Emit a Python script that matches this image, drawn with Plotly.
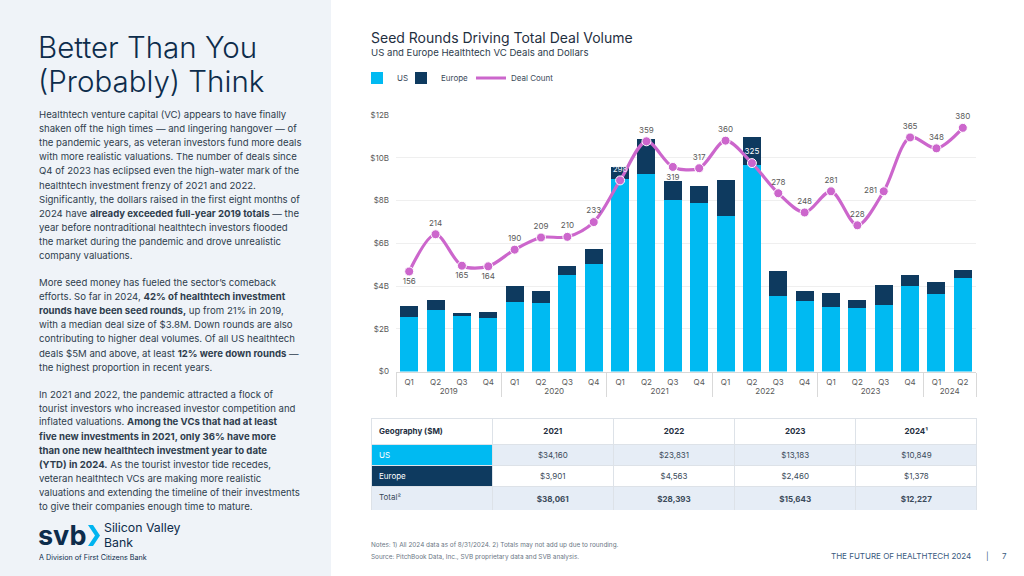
import plotly.graph_objects as go

W, H = 1024, 576

# ---------------- data ----------------
years = ["2019"] * 4 + ["2020"] * 4 + ["2021"] * 4 + ["2022"] * 4 + ["2023"] * 4 + ["2024"] * 2
quarters = ["Q1", "Q2", "Q3", "Q4"] * 5 + ["Q1", "Q2"]
us_bn = [2.56, 2.87, 2.60, 2.48, 3.24, 3.22, 4.50, 5.02, 9.00, 9.24, 8.01, 7.88,
         7.28, 9.64, 3.54, 3.32, 3.02, 2.98, 3.13, 4.00, 3.62, 4.36]
europe_bn = [0.52, 0.47, 0.14, 0.31, 0.78, 0.55, 0.44, 0.70, 0.58, 1.62, 0.90, 0.81,
             1.66, 1.31, 1.15, 0.45, 0.64, 0.37, 0.92, 0.52, 0.56, 0.39]
deal_count = [156, 214, 165, 164, 190, 209, 210, 233, 298, 359, 319, 317,
              360, 325, 278, 248, 281, 228, 281, 365, 348, 380]
label_pos = ["bottom center", "top center", "bottom center", "bottom center",
             "top center", "top center", "top center", "top center",
             "top center", "top center", "bottom center", "top center",
             "top center", "top center", "top center", "top center",
             "top center", "top center", "middle left", "top center",
             "top center", "top center"]
label_color = ["#595959"] * 22
label_color[8] = "#e8eef5"
label_color[13] = "#ffffff"

y_ticks = [0, 2, 4, 6, 8, 10, 12]
y_tick_text = ["$0", "$2B", "$4B", "$6B", "$8B", "$10B", "$12B"]

table_header = ["Geography ($M)", "2021", "2022", "2023", "2024¹"]
table_rows = ["US", "Europe", "Total²"]
table_us = ["$34,160", "$23,831", "$13,183", "$10,849"]
table_europe = ["$3,901", "$4,563", "$2,460", "$1,378"]
table_total = ["$38,061", "$28,393", "$15,643", "$12,227"]

# ---------------- colours ----------------
C_US = "#00baf2"
C_EU = "#0e3a5f"
C_LINE = "#cc66cc"
C_NAVY = "#0d2c4b"
C_TEXT = "#2e3d4d"
C_LIGHT = "#e6edf6"
FONT = "Inter"


def px(x):
    return x / W


def py(y):
    return 1 - y / H


fig = go.Figure()
fig.add_trace(go.Bar(x=[years, quarters], y=us_bn, name="US", marker_color=C_US,
                     marker_line_width=0, legend="legend"))
fig.add_trace(go.Bar(x=[years, quarters], y=europe_bn, name="Europe", marker_color=C_EU,
                     marker_line_width=0, legend="legend2"))
fig.add_trace(go.Scatter(x=[years, quarters], y=deal_count, name="Deal Count", yaxis="y2",
                         mode="lines+markers+text", showlegend=False,
                         line=dict(color=C_LINE, width=3.2, shape="spline", smoothing=0.9),
                         marker=dict(size=9, color=C_LINE, line=dict(color="white", width=1)),
                         text=[str(v) for v in deal_count], textposition=label_pos,
                         textfont=dict(size=8, color=label_color, family=FONT),
                         cliponaxis=False))
# legend entry for the line (line only, as in the reference)
fig.add_trace(go.Scatter(x=[None], y=[None], name="Deal Count", mode="lines", yaxis="y2",
                         line=dict(color=C_LINE, width=3), legend="legend3"))

fig.add_trace(go.Table(
    domain=dict(x=[px(371), px(977)], y=[py(510), py(418)]),
    columnwidth=[1, 1, 1, 1, 1],
    header=dict(values=["<b>" + h + "</b>" for h in table_header],
                fill_color="white", line=dict(color="#dde2e8", width=1),
                align=["left", "center", "center", "center", "center"],
                font=dict(size=8, color="#1f2f3f", family=FONT), height=21),
    cells=dict(values=[table_rows,
                       [table_us[0], table_europe[0], "<b>" + table_total[0] + "</b>"],
                       [table_us[1], table_europe[1], "<b>" + table_total[1] + "</b>"],
                       [table_us[2], table_europe[2], "<b>" + table_total[2] + "</b>"],
                       [table_us[3], table_europe[3], "<b>" + table_total[3] + "</b>"]],
               fill_color=[[C_US, C_EU, C_LIGHT]] + [[C_LIGHT, "white", C_LIGHT]] * 4,
               line=dict(color="#dde2e8", width=1),
               align=["left", "center", "center", "center", "center"],
               font=dict(size=8, color=[["white", "white", "#3a4a5a"]] + [["#3a4a5a"] * 3] * 4, family=FONT),
               height=21)
))

# ---------------- layout ----------------
leg_common = dict(orientation="h", yanchor="middle", xanchor="left",
                  font=dict(size=8, color="#3a4a5a", family=FONT),
                  bgcolor="rgba(0,0,0,0)", itemwidth=30, y=py(78))
fig.update_layout(
    template="none",
    width=W, height=H, margin=dict(l=0, r=0, t=0, b=0, pad=0),
    paper_bgcolor="white", plot_bgcolor="white",
    barmode="stack", bargap=0.32,
    font=dict(family=FONT, color=C_TEXT),
    showlegend=True,
    legend=dict(x=px(357), **leg_common),
    legend2=dict(x=px(401), **leg_common),
    legend3=dict(x=px(471), **leg_common),
    xaxis=dict(domain=[px(396), px(976)], type="multicategory", range=[-0.5, 21.5],
               autorange=False, automargin=False,
               tickfont=dict(size=8, color="#595959", family=FONT),
               showline=True, linecolor="#d9d9d9", linewidth=1,
               showdividers=True, dividercolor="#d9d9d9", dividerwidth=1,
               ticks="", showgrid=False, zeroline=False, ticklabelstandoff=3),
    yaxis=dict(domain=[py(371.5), py(115)], range=[0, 12], tickvals=y_ticks, ticktext=y_tick_text,
               autorange=False, automargin=False,
               tickfont=dict(size=8, color="#595959", family=FONT),
               showgrid=True, gridcolor="#efefef", gridwidth=1, zeroline=False,
               ticks="", ticklabelstandoff=6, showline=False),
    yaxis2=dict(overlaying="y", range=[0, 400], autorange=False, visible=False, showgrid=False),
)

shapes = [
    dict(type="rect", xref="paper", yref="paper", x0=0, x1=px(331), y0=0, y1=1,
         fillcolor="#eff3f8", line=dict(width=0), layer="below"),
    # svb chevron
    dict(type="path", xref="paper", yref="paper",
         path=f"M {px(88)},{py(525)} L {px(93)},{py(525)} L {px(100)},{py(535.5)} L {px(93)},{py(546)} "
              f"L {px(88)},{py(546)} L {px(95)},{py(535.5)} Z",
         fillcolor="#00b4f0", line=dict(width=0)),
]
fig.update_layout(shapes=shapes)

ann = []


def add_text(x, y, text, size, color=C_TEXT, weight=None, family=FONT, xanchor="left"):
    f = dict(size=size, color=color, family=family)
    if weight is not None:
        f["weight"] = weight
    ann.append(dict(x=px(x), y=py(y), xref="paper", yref="paper", text=text, showarrow=False,
                    xanchor=xanchor, yanchor="middle", font=f, align="left"))


add_text(36, 47, "Better Than You", 29.5, C_NAVY, weight=300)
add_text(36, 81, "(Probably) Think", 29.5, C_NAVY, weight=300)

para1 = [
    "Healthtech venture capital (VC) appears to have finally",
    "shaken off the high times — and lingering hangover — of",
    "the pandemic years, as veteran investors fund more deals",
    "with more realistic valuations. The number of deals since",
    "Q4 of 2023 has eclipsed even the high-water mark of the",
    "healthtech investment frenzy of 2021 and 2022.",
    "Significantly, the dollars raised in the first eight months of",
    "2024 have <b>already exceeded full-year 2019 totals</b> — the",
    "year before nontraditional healthtech investors flooded",
    "the market during the pandemic and drove unrealistic",
    "company valuations.",
]
para2 = [
    "More seed money has fueled the sector’s comeback",
    "efforts. So far in 2024, <b>42% of healthtech investment</b>",
    "<b>rounds have been seed rounds,</b> up from 21% in 2019,",
    "with a median deal size of $3.8M. Down rounds are also",
    "contributing to higher deal volumes. Of all US healthtech",
    "deals $5M and above, at least <b>12% were down rounds</b> —",
    "the highest proportion in recent years.",
]
para3 = [
    "In 2021 and 2022, the pandemic attracted a flock of",
    "tourist investors who increased investor competition and",
    "inflated valuations. <b>Among the VCs that had at least</b>",
    "<b>five new investments in 2021, only 36% have more</b>",
    "<b>than one new healthtech investment year to date</b>",
    "<b>(YTD) in 2024.</b> As the tourist investor tide recedes,",
    "veteran healthtech VCs are making more realistic",
    "valuations and extending the timeline of their investments",
    "to give their companies enough time to mature.",
]
LH = 14.1
BODY = 9.6
for i, line in enumerate(para1):
    add_text(37, 114.5 + i * LH, line, BODY)
for i, line in enumerate(para2):
    add_text(37, 282.5 + i * LH, line, BODY)
for i, line in enumerate(para3):
    add_text(37, 394 + i * LH, line, BODY)

# logo
add_text(36, 535, "<b>svb</b>", 27, C_NAVY)
add_text(102, 527.5, "Silicon Valley", 12.3, C_NAVY)
add_text(102, 542.5, "Bank", 12.3, C_NAVY)
add_text(37, 557.5, "A Division of First Citizens Bank", 7.2, C_NAVY)

# chart titles
add_text(369, 38, "Seed Rounds Driving Total Deal Volume", 14, "#1f2f3f")
add_text(369, 53, "US and Europe Healthtech VC Deals and Dollars", 9.6, "#2e3d4d")

# footer
add_text(369, 545, "Notes: 1) All 2024 data as of 8/31/2024. 2) Totals may not add up due to rounding.", 6.4, "#6b7785")
add_text(369, 557, "Source: PitchBook Data, Inc., SVB proprietary data and SVB analysis.", 6.4, "#6b7785")
add_text(973, 556, "THE FUTURE OF HEALTHTECH 2024", 8, "#3a5a80", xanchor="right")
add_text(987, 556, "|", 8, "#3a5a80", xanchor="center")
add_text(1004, 556, "7", 8, "#3a5a80", xanchor="center")

fig.update_layout(annotations=ann)

fig.write_html("out.html", config={"displayModeBar": False},
               post_script="document.body.style.margin='0';document.body.style.padding='0';"
                           "document.body.style.overflow='hidden';")
